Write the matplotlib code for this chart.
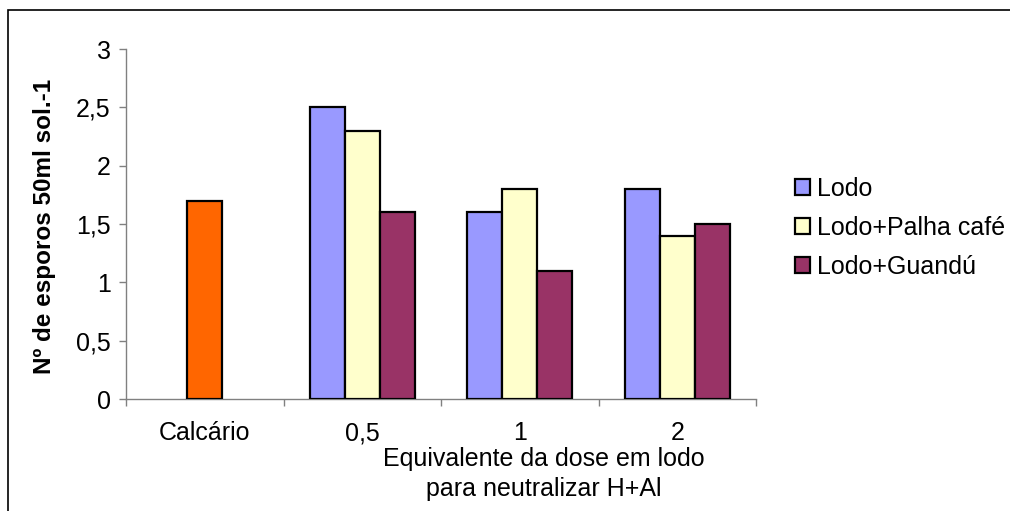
import matplotlib
matplotlib.use("Agg")
import matplotlib.pyplot as plt
from matplotlib.patches import Rectangle
import numpy as np

plt.rcParams['font.family'] = ['Liberation Sans', 'DejaVu Sans']

categories = ["Calcário", "0,5", "1", "2"]
calcario_value = [1.7]
series_names = ["Lodo", "Lodo+Palha café", "Lodo+Guandú"]
lodo = [2.5, 1.6, 1.8]
lodo_palha = [2.3, 1.8, 1.4]
lodo_guandu = [1.6, 1.1, 1.5]
yticks = [0, 0.5, 1, 1.5, 2, 2.5, 3]
ytick_labels = ["0", "0,5", "1", "1,5", "2", "2,5", "3"]

colors = ["#9999FF", "#FFFFCC", "#993366"]
calc_color = "#FF6600"
FS = 18

fig = plt.figure(figsize=(10.10, 5.11), dpi=100)
ax = fig.add_axes([126/1010, 1-399/511, (756-126)/1010, (399-49)/511])

w = 0.222
ax.bar([0], calcario_value, width=w, color=calc_color, edgecolor="black", linewidth=1.6, zorder=3)
xg = np.arange(1, 4)
series = [lodo, lodo_palha, lodo_guandu]
handles = []
for i, (vals, c, name) in enumerate(zip(series, colors, series_names)):
    b = ax.bar(xg + (i-1)*w, vals, width=w, color=c, edgecolor="black", linewidth=1.6, label=name, zorder=3)
    handles.append(b)

ax.set_xlim(-0.5, 3.5)
ax.set_ylim(0, 3)
ax.set_yticks(yticks)
ax.set_yticklabels(ytick_labels)
for s in ["top", "right"]:
    ax.spines[s].set_visible(False)
for s in ["left", "bottom"]:
    ax.spines[s].set_color("#808080")
    ax.spines[s].set_linewidth(1.0)

ax.set_xticks([-0.5, 0.5, 1.5, 2.5, 3.5])
ax.set_xticklabels([])
ax.set_xticks(np.arange(4), minor=True)
ax.set_xticklabels(categories, minor=True)
ax.tick_params(axis="x", which="major", direction="out", length=5, width=1.0, color="#808080")
ax.tick_params(axis="x", which="minor", length=0, pad=16, labelsize=FS)
ax.tick_params(axis="y", direction="out", length=5, width=1.0, color="#808080", pad=6, labelsize=FS)

fig.text(45/1010, 1-226/511, "Nº de esporos 50ml sol.-1", rotation=90, ha="center", va="center",
         fontsize=17.5, fontweight="bold")
fig.text(544/1010, 1-447/511, "Equivalente da dose em lodo\npara neutralizar H+Al", ha="center", va="top",
         fontsize=FS, linespacing=1.3)

leg = fig.legend(handles=handles, labels=series_names, loc="upper left",
                 bbox_to_anchor=(795/1010, 1-177/511), frameon=False, fontsize=FS,
                 handlelength=0.6, handleheight=0.6, handletextpad=0.28, labelspacing=0.6,
                 borderpad=0, borderaxespad=0)

fig.patches.append(Rectangle((8/1010, -0.1), 1.2, 1.1 - 10/511, transform=fig.transFigure,
                             fill=False, edgecolor="black", linewidth=1.2))

fig.savefig("out.png", dpi=100)
